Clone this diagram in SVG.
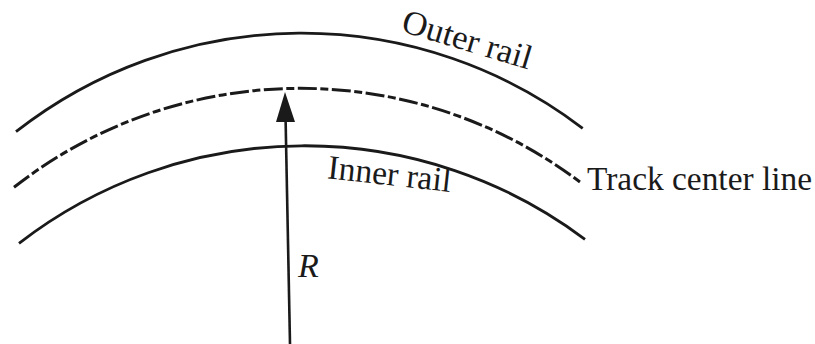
<svg xmlns="http://www.w3.org/2000/svg" width="815" height="344" viewBox="0 0 815 344">
  <style>
    .rail { fill: none; stroke: #1a1a1a; stroke-width: 2.8; stroke-linecap: butt; }
    .center { fill: none; stroke: #1a1a1a; stroke-width: 3; stroke-dasharray: 19 3.5 8 3.5; }
    .lbl { font-family: "Liberation Serif", "DejaVu Serif", serif; font-size: 34px; fill: #1a1a1a; }
    .it { font-style: italic; }
  </style>
  <rect width="815" height="344" fill="#ffffff"/>
  <g id="outer-rail">
    <path class="rail" d="M16,131.7 A463,463 0 0 1 582.7,128.3"/>
    <text class="lbl" x="0" y="0" textLength="134" lengthAdjust="spacingAndGlyphs" transform="translate(400,31) rotate(16.7)">Outer rail</text>
  </g>
  <g id="track-center-line">
    <path class="center" d="M14,187.3 A464,464 0 0 1 581.7,183.3"/>
    <text class="lbl" x="587" y="190" textLength="225" lengthAdjust="spacingAndGlyphs">Track center line</text>
  </g>
  <g id="inner-rail">
    <path class="rail" d="M19,243.3 A467,467 0 0 1 585,239.3"/>
    <text class="lbl" x="0" y="0" textLength="124" lengthAdjust="spacingAndGlyphs" transform="translate(326.7,178.3) rotate(6.3)">Inner rail</text>
  </g>
  <g id="connectors">
    <g id="radius-arrow">
      <line x1="290" y1="344" x2="285.6" y2="120" stroke="#1a1a1a" stroke-width="2.6"/>
      <polygon points="285,92 276,122 295,122" fill="#1a1a1a"/>
    </g>
  </g>
  <g id="radius-label">
    <text class="lbl it" x="298" y="276.7">R</text>
  </g>
</svg>
